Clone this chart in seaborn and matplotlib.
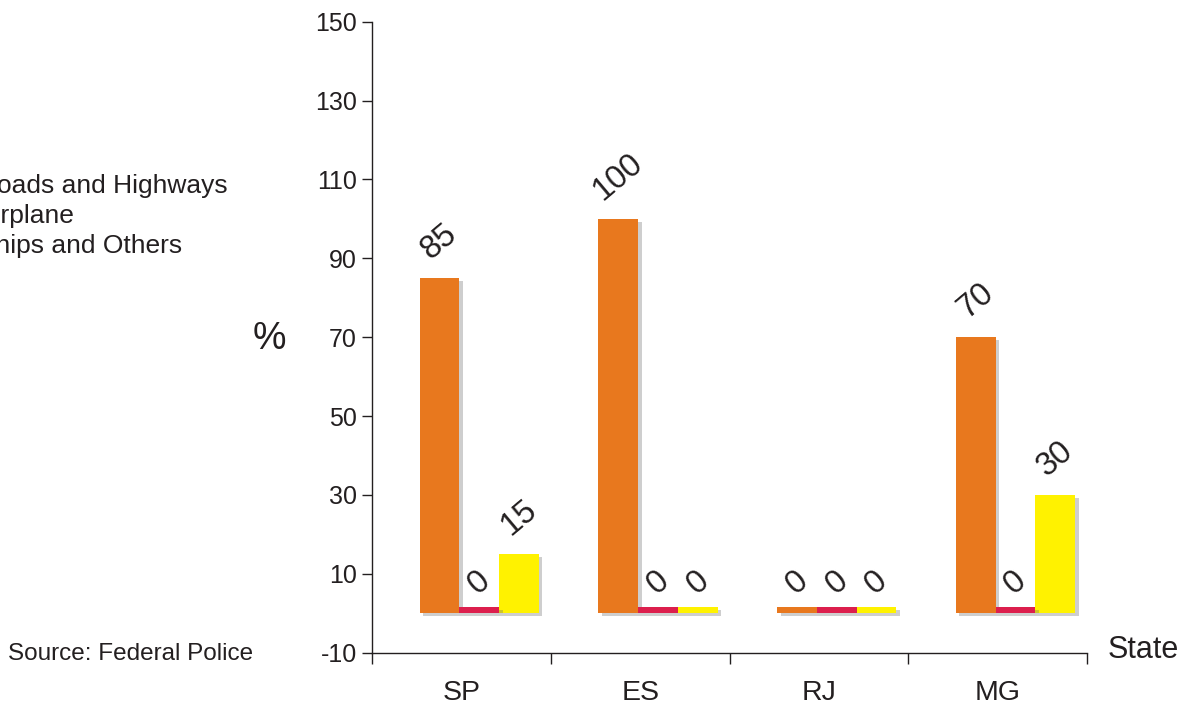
import matplotlib
matplotlib.use("Agg")
import matplotlib.pyplot as plt
import matplotlib.patheffects as pe
from matplotlib.patches import Patch, Rectangle
import numpy as np
import pandas as pd
import seaborn as sns

# Share of seizures by transport route, per state (%)
states = ["SP", "ES", "RJ", "MG"]
routes = ["Roads and Highways", "Airplane", "Ships and Others"]
roads = [85, 100, 0, 70]
airplane = [0, 0, 0, 0]
ships = [15, 0, 0, 30]
route_colors = ["#E8781E", "#DC1F4D", "#FFF200"]
y_ticks = [-10, 10, 30, 50, 70, 90, 110, 130, 150]

df = pd.DataFrame({
    "State": states * 3,
    "Route": [r for r in routes for _ in states],
    "Percent": roads + airplane + ships,
})

sns.set_theme(style="ticks")
plt.rcParams["font.family"] = ["Liberation Sans", "DejaVu Sans"]
plt.rcParams["text.color"] = "#231F20"

fig = plt.figure(figsize=(11.88, 7.06), dpi=100)
ax = fig.add_axes([372 / 1188, 1 - 652.7 / 706, (1087 - 372) / 1188, (652.7 - 21.7) / 706])

shadow = [pe.SimplePatchShadow(offset=(2.5, -2), shadow_rgbFace="0.45", alpha=0.35), pe.Normal()]

sns.barplot(data=df, x="State", y="Percent", hue="Route", hue_order=routes,
            order=states, palette=route_colors, width=0.667, gap=0,
            saturation=1, legend=False, ax=ax, linewidth=0)

series_values = [roads, airplane, ships]
for container, values, color in zip(ax.containers, series_values, route_colors):
    for patch, v in zip(container.patches, values):
        patch.set_path_effects(shadow)
        cx = patch.get_x() + patch.get_width() / 2
        if v == 0:
            # zero-valued bars get a thin baseline strip so they stay visible
            strip = Rectangle((patch.get_x(), 0), patch.get_width(), 1.5,
                              facecolor=color, edgecolor="none", zorder=patch.get_zorder())
            strip.set_path_effects(shadow)
            ax.add_patch(strip)
        ax.annotate(f"{v:g}", xy=(cx, v), xytext=(0, 9), textcoords="offset points",
                    ha="center", va="bottom", rotation=40, fontsize=23.5, color="#231F20")

# bar groups sit a little right of the centre of each state's band
ax.set_xlim(-0.6, 3.4)
ax.set_ylim(-10, 150)
ax.set_yticks(y_ticks)
ax.set_yticklabels([str(t) for t in y_ticks])
ax.set_xticks(np.arange(len(states)) - 0.1)
ax.set_xticklabels(states)
ax.set_xticks(np.arange(-0.6, len(states) - 0.5, 1.0), minor=True)

for side in ["top", "right"]:
    ax.spines[side].set_visible(False)
for side in ["left", "bottom"]:
    ax.spines[side].set_color("#231F20")
    ax.spines[side].set_linewidth(1.0)

ax.tick_params(axis="y", direction="out", length=7, width=1.0, color="#231F20",
               labelsize=18, pad=4, labelcolor="#231F20")
ax.tick_params(axis="x", which="major", length=0, labelsize=20.5, pad=20, labelcolor="#231F20")
ax.tick_params(axis="x", which="minor", direction="out", length=8, width=1.0, color="#231F20")
ax.grid(False)

ax.set_xlabel("")
ax.set_ylabel("%", rotation=0, fontsize=27, labelpad=0, color="#231F20", va="center")
ax.yaxis.set_label_coords(-0.143, 0.497)

fig.text(1108 / 1188, 1 - 650 / 706, "State", ha="left", va="center", fontsize=22)
fig.text(8 / 1188, 1 - 654 / 706, "Source: Federal Police", ha="left", va="center", fontsize=17.5)

handles = [Patch(facecolor=c, edgecolor="none") for c in route_colors]
fig.legend(handles, routes, loc="upper left", bbox_to_anchor=(-62 / 1188, 1 - 174 / 706),
           frameon=False, fontsize=19, borderpad=0, borderaxespad=0,
           handlelength=1.0, handletextpad=0.5, labelspacing=0.23)

fig.savefig("out.png", dpi=100)
